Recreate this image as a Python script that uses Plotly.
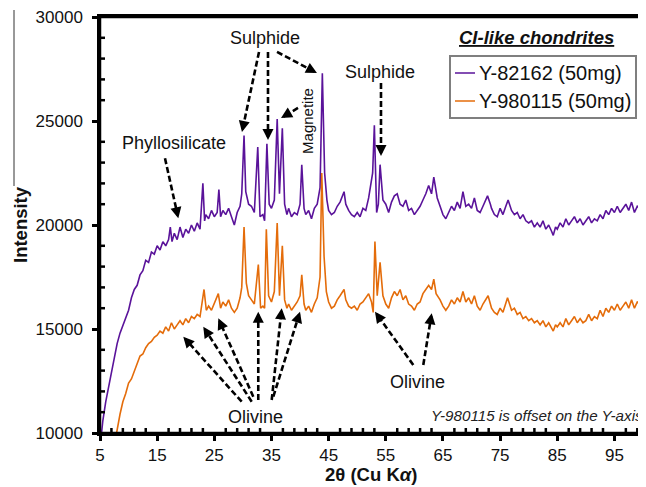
import plotly.graph_objects as go

# ---------------- data ----------------
SERIES_NAMES = ["Y-82162 (50mg)", "Y-980115 (50mg)"]

P_THETA = [
    5.0, 5.5, 6.0, 6.5, 7.0, 7.5, 8.0, 8.5, 9.0, 9.5,
    10.0, 10.5, 11.0, 11.5, 12.0, 12.5, 13.0, 13.5, 14.0, 14.5,
    15.0, 15.5, 16.0, 16.5, 17.0, 17.3, 17.6, 18.0, 18.5, 19.0,
    19.5, 20.0, 20.5, 21.0, 21.5, 22.0, 22.5, 23.0, 23.3, 23.5,
    24.0, 24.5, 25.0, 25.5, 25.8, 26.1, 26.5, 27.0, 27.5, 28.0,
    28.5, 29.0, 29.5, 29.8, 30.2, 30.5, 31.0, 31.5, 32.0, 32.6,
    33.0, 33.5, 33.8, 34.2, 34.6, 35.0, 35.5, 36.0, 36.4, 36.9,
    37.3, 37.7, 38.0, 38.5, 39.0, 39.5, 40.0, 40.3, 40.7, 41.0,
    41.5, 42.0, 42.5, 43.0, 43.5, 43.9, 44.3, 44.7, 45.0, 45.5,
    46.0, 46.5, 47.0, 47.7, 48.0, 48.5, 49.0, 49.5, 50.0, 50.5,
    51.0, 51.5, 52.0, 52.7, 53.0, 53.4, 53.7, 54.0, 54.5, 55.0,
    55.5, 56.0, 56.5, 57.0, 57.5, 58.0, 58.5, 59.0, 59.5, 60.0,
    60.5, 61.0, 61.5, 62.0, 62.5, 63.0, 63.4, 64.0, 64.5, 65.0,
    65.5, 66.0, 66.5, 67.0, 67.5, 68.0, 68.5, 69.0, 69.5, 70.0,
    70.5, 71.0, 71.5, 72.0, 72.8, 73.3, 73.5, 74.0, 74.5, 75.0,
    75.5, 76.0, 76.4, 77.0, 77.5, 78.0, 78.5, 79.0, 79.5, 80.0,
    80.5, 81.0, 81.5, 82.0, 82.5, 83.0, 83.5, 84.0, 84.3, 84.7,
    85.0, 85.5, 86.0, 86.5, 87.0, 87.5, 88.0, 88.5, 89.0, 89.5,
    90.0, 90.5, 91.0, 91.5, 92.0, 92.5, 93.0, 93.5, 94.0, 94.5,
    95.0, 95.5, 96.0, 96.5, 97.0, 97.5, 98.0, 98.5, 99.0, 99.5,
    100.0,
]
P_INT = [
    9300, 10600, 11500, 12300, 12900, 13600, 14300, 14800, 15200, 15500,
    15900, 16500, 16900, 17100, 17600, 17800, 18300, 18200, 18700, 18600,
    19000, 18800, 19200, 19000, 19300, 19900, 19200, 19600, 19300, 19900,
    19400, 19800, 19600, 20000, 19700, 20100, 19800, 22000, 20200, 20500,
    20300, 20700, 20400, 20600, 21700, 20400, 20700, 20500, 20800, 20400,
    20000, 20600, 20900, 21500, 24300, 21600, 21000, 20900, 20600, 23750,
    20400, 20500, 20200, 23900, 21000, 20800, 21200, 25100, 21500, 24650,
    21000, 20500, 20800, 20400, 20600, 20500, 21000, 22900, 20800, 20500,
    20700, 20300, 20800, 21000, 21800, 27300, 22500, 21200, 20700, 20500,
    20600, 20900, 21100, 21600, 21000, 20700, 20500, 20400, 20600, 20400,
    20800, 20700, 21300, 22500, 24800, 20600, 21000, 22900, 21200, 21000,
    20600, 21100, 21400, 21500, 21000, 20900, 21200, 20700, 20800, 20500,
    20700, 20900, 21200, 21500, 21900, 21500, 22300, 21300, 20900, 20500,
    20300, 20600, 20900, 20700, 21100, 20800, 21600, 20900, 21000, 20800,
    21300, 20700, 20600, 20900, 21400, 21000, 20800, 20500, 20400, 20800,
    20500, 20900, 21200, 20700, 20500, 20600, 20300, 20500, 20200, 20100,
    20200, 19900, 20100, 19900, 20200, 19800, 20000, 19700, 19500, 19900,
    19800, 20100, 19900, 20300, 20000, 20200, 20400, 20100, 20300, 20000,
    20200, 20400, 20100, 20300, 20200, 20500, 20300, 20700, 20500, 20800,
    20600, 20900, 20600, 20800, 21000, 20700, 21100, 20600, 20900, 20800,
    20700,
]

O_THETA = [
    7.5, 7.9, 8.5, 9.0, 9.5, 10.0, 10.5, 11.0, 11.5, 12.0,
    12.5, 13.0, 13.5, 14.0, 14.5, 15.0, 15.5, 16.0, 16.5, 17.0,
    17.5, 18.0, 18.5, 19.0, 19.5, 20.0, 20.5, 21.0, 21.5, 22.0,
    22.5, 23.2, 23.6, 24.0, 24.5, 25.0, 25.7, 26.1, 26.5, 27.0,
    27.5, 28.0, 28.5, 29.0, 29.5, 29.8, 30.2, 30.6, 31.0, 31.5,
    32.0, 32.7, 33.1, 33.5, 33.8, 34.1, 34.5, 35.0, 35.5, 36.0,
    36.4, 36.9, 37.3, 37.7, 38.0, 38.5, 39.0, 39.5, 40.0, 40.3,
    40.7, 41.0, 41.5, 42.0, 42.5, 43.0, 43.5, 43.8, 44.2, 44.6,
    45.0, 45.5, 46.0, 46.5, 47.0, 47.7, 48.0, 48.5, 49.0, 49.5,
    50.0, 50.5, 51.0, 51.5, 52.0, 52.5, 52.8, 53.1, 53.5, 54.0,
    54.5, 55.0, 55.5, 56.0, 56.5, 57.0, 57.5, 58.0, 58.5, 59.0,
    59.5, 60.0, 60.5, 61.0, 61.5, 62.0, 62.5, 63.0, 63.4, 63.8,
    64.5, 65.0, 65.5, 66.0, 66.5, 67.0, 67.5, 68.0, 68.5, 69.0,
    69.5, 70.0, 70.5, 71.0, 71.5, 72.0, 72.9, 73.3, 73.5, 74.0,
    74.5, 75.0, 75.5, 76.3, 77.0, 77.5, 78.0, 78.5, 79.0, 79.5,
    80.0, 80.5, 81.0, 81.5, 82.0, 82.5, 83.0, 83.5, 84.0, 84.3,
    84.7, 85.0, 85.5, 86.0, 86.5, 87.0, 87.5, 88.0, 88.5, 89.0,
    89.5, 90.0, 90.5, 91.0, 91.5, 92.0, 92.5, 93.0, 93.5, 94.0,
    94.5, 95.0, 95.5, 96.0, 96.5, 97.0, 97.5, 98.0, 98.5, 99.0,
    99.5, 100.0,
]
O_INT = [
    9200, 10000, 10900, 11500, 11900, 12400, 12600, 13000, 13300, 13700,
    13800, 14100, 14300, 14400, 14600, 14700, 14900, 14800, 15100, 14900,
    15300, 15000, 15200, 15400, 15200, 15500, 15300, 15600, 15500, 15700,
    15600, 16900, 15900, 16100, 15900, 16200, 16700, 16000, 16300, 16100,
    16400, 16000, 15800, 16000, 16500, 17000, 19900, 17200, 16600, 16400,
    16200, 18100, 16000, 16100, 16000, 19800, 16600, 16300, 16800, 20100,
    16600, 19000, 16400, 16000, 16200, 15900, 16100, 16300, 16600, 17600,
    16200, 15900, 16100, 15800, 16200, 16500, 17500, 22500, 18500, 16800,
    16300, 16000, 16100, 16400, 16600, 16900, 16400, 16100, 16000, 16100,
    15900, 16200, 16300, 16500, 16700, 16300, 15800, 19200, 16600, 18200,
    16600, 16200, 16000, 16500, 16800, 16600, 16900, 16400, 16600, 16200,
    16100, 15900, 16200, 16300, 16700, 16900, 17100, 16900, 17400, 16700,
    16400, 16100, 15900, 16100, 16400, 16200, 16500, 16300, 16800, 16300,
    16500, 16200, 16600, 16100, 15900, 16200, 16600, 16200, 16000, 15800,
    15700, 16000, 15800, 16500, 15900, 16000, 15700, 15800, 15500, 15600,
    15400, 15500, 15300, 15400, 15200, 15400, 15100, 15300, 15000, 14900,
    15200, 15100, 15300, 15100, 15500, 15200, 15400, 15600, 15300, 15500,
    15300, 15400, 15700, 15400, 15600, 15500, 15900, 15600, 16000, 15800,
    16100, 15900, 16200, 15900, 16100, 16300, 16000, 16400, 16000, 16300,
    16200, 16100,
]

X_TICKS = [5, 15, 25, 35, 45, 55, 65, 75, 85, 95]
Y_TICKS = [10000, 15000, 20000, 25000, 30000]
X_MINOR_STEP = 2
Y_MINOR_STEP = 1000
X_TITLE = "<b>2θ (Cu K<i>α</i>)</b>"
Y_TITLE = "<b>Intensity</b>"

assert len(P_THETA) == len(P_INT)
assert len(O_THETA) == len(O_INT)

# ---------------- styling ----------------
COLORS = ["#5a139a", "#e46c0a"]
FONT = "Liberation Sans, Arial, sans-serif"
OFF = 8                       # page body margin of the browser
W, H = 646 - OFF, 487 - OFF
ML, MR, MT, MB = 100 - OFF, 3, 17 - OFF, 54
XR = [5, 100]
YR = [10000, 30000]
PW, PH = W - ML - MR, H - MT - MB
XPX = PW / (XR[1] - XR[0])     # px per degree
YPX = PH / (YR[1] - YR[0])     # px per count

fig = go.Figure()
fig.add_trace(go.Scatter(x=P_THETA, y=P_INT, mode="lines", name=SERIES_NAMES[0],
                         line=dict(color=COLORS[0], width=1.6), showlegend=False))
fig.add_trace(go.Scatter(x=O_THETA, y=O_INT, mode="lines", name=SERIES_NAMES[1],
                         line=dict(color=COLORS[1], width=1.6), showlegend=False))


def arrow(tail, head):
    dx = (head[0] - tail[0]) * XPX
    dy = -(head[1] - tail[1]) * YPX
    L = (dx * dx + dy * dy) ** 0.5
    ux, uy = dx / L, dy / L
    stop = (head[0] - ux * 6 / XPX, head[1] + uy * 6 / YPX)
    fig.add_shape(type="line", xref="x", yref="y",
                  x0=tail[0], y0=tail[1], x1=stop[0], y1=stop[1],
                  line=dict(color="black", width=2.6, dash="6px,3px"))
    fig.add_annotation(x=head[0], y=head[1], xref="x", yref="y",
                       ax=-ux * 10, ay=-uy * 10, text="", showarrow=True,
                       arrowhead=2, arrowsize=0.85, arrowwidth=2.6,
                       arrowcolor="black", standoff=0)


def label(x, y, text, size=18, angle=0):
    fig.add_annotation(x=x, y=y, xref="x", yref="y", text=text, showarrow=False,
                       textangle=angle, xanchor="center", yanchor="middle",
                       font=dict(family=FONT, size=size, color="#111"))


# Sulphide (left)
label(33.95, 28990, "Sulphide")
arrow((32.82, 28319), (29.84, 24472))
arrow((34.39, 28319), (34.39, 24087))
arrow((35.97, 28319), (42.96, 27309))
# Magnetite
label(41.2, 25000, "Magnetite", size=15, angle=-90)
arrow((39.64, 25626), (36.67, 25145))
# Sulphide (right)
label(54.0, 27360, "Sulphide")
arrow((54.16, 26828), (54.16, 23318))
# Phyllosilicate
label(17.95, 23940, "Phyllosilicate")
arrow((16.37, 23208), (18.70, 20323))
# Olivine (bottom)
label(32.12, 10770, "Olivine")
arrow((29.79, 11505), (19.57, 14630))
arrow((31.54, 11505), (23.07, 15111))
arrow((31.82, 11745), (25.70, 15515))
arrow((32.69, 11587), (32.69, 15832))
arrow((35.04, 11587), (36.79, 15996))
arrow((35.32, 11745), (39.99, 15832))
# Olivine (right)
label(60.63, 12450, "Olivine")
arrow((59.81, 13269), (53.11, 15832))
arrow((61.56, 13269), (63.03, 15755))


def px2paper(px, py):
    """reference-picture pixel -> paper coords"""
    return (px - OFF - ML) / PW, (H - MB - (py - OFF)) / PH


# plot frame (left, bottom, top)
for (a, b, c, d) in [(0, 0, 0, 1), (0, 0, 1, 0), (0, 1, 1, 1)]:
    fig.add_shape(type="line", xref="paper", yref="paper", x0=a, y0=b, x1=c, y1=d,
                  line=dict(color="black", width=2.5), layer="above")

# minor ticks drawn inside the frame
v = XR[0] + X_MINOR_STEP
while v < XR[1]:
    if (v - X_TICKS[0]) % (X_TICKS[1] - X_TICKS[0]) != 0:
        fig.add_shape(type="line", xref="x", yref="paper", x0=v, x1=v,
                      ysizemode="pixel", yanchor=0, y0=0, y1=5,
                      line=dict(color="black", width=2.5), layer="above")
    v += X_MINOR_STEP
v = YR[0] + Y_MINOR_STEP
while v < YR[1]:
    if (v - Y_TICKS[0]) % (Y_TICKS[1] - Y_TICKS[0]) != 0:
        fig.add_shape(type="line", xref="paper", yref="y", y0=v, y1=v,
                      xsizemode="pixel", xanchor=0, x0=0, x1=5,
                      line=dict(color="black", width=2.5), layer="above")
    v += Y_MINOR_STEP

# axis titles
tx, ty = px2paper(371, 474)
fig.add_annotation(xref="paper", yref="paper", x=tx, y=ty, text=X_TITLE, showarrow=False,
                   xanchor="center", yanchor="middle",
                   font=dict(family=FONT, size=18.5, color="#111"))
tx, ty = px2paper(20, 225)
fig.add_annotation(xref="paper", yref="paper", x=tx, y=ty, text=Y_TITLE, showarrow=False,
                   xanchor="center", yanchor="middle", textangle=-90,
                   font=dict(family=FONT, size=18.5, color="#111"))

# manual legend
x0, y1 = px2paper(450, 56)
x1, y0 = px2paper(636, 118)
fig.add_shape(type="rect", xref="paper", yref="paper", x0=x0, y0=y0, x1=x1, y1=y1,
              line=dict(color="#7f7f7f", width=2), fillcolor="white", layer="above")
for i, (name, col) in enumerate(zip(SERIES_NAMES, COLORS)):
    ly = 73 + 28 * i
    lx0, lyp = px2paper(455, ly)
    lx1, _ = px2paper(475, ly)
    fig.add_shape(type="line", xref="paper", yref="paper", x0=lx0, x1=lx1, y0=lyp, y1=lyp,
                  line=dict(color=col, width=1.5), layer="above")
    tx, _ = px2paper(477, ly)
    fig.add_annotation(xref="paper", yref="paper", x=tx, y=lyp, text=name, showarrow=False,
                       xanchor="left", yanchor="middle",
                       font=dict(family=FONT, size=20, color="#111"))
tx, ty = px2paper(536, 37)
fig.add_annotation(xref="paper", yref="paper", x=tx, y=ty,
                   text="<u><b><i>CI-like chondrites</i></b></u>", showarrow=False,
                   xanchor="center", yanchor="middle",
                   font=dict(family=FONT, size=18.5, color="#111"))

# footnote
fx, fy = px2paper(645, 415)
fig.add_annotation(xref="paper", yref="paper", x=fx, y=fy, xanchor="right",
                   yanchor="middle",
                   text="<i>Y-980115 is offset on the Y-axis</i>", showarrow=False,
                   font=dict(family=FONT, size=15.2, color="#222"))

# thin stray frame line at far left
lx, ly0 = px2paper(14, 10)
_, ly1 = px2paper(14, 186)
fig.add_shape(type="line", xref="paper", yref="paper", x0=lx, x1=lx, y0=ly0, y1=ly1,
              line=dict(color="#333", width=1))

fig.update_layout(
    width=W, height=H,
    margin=dict(l=ML, r=MR, t=MT, b=MB, pad=0, autoexpand=False),
    paper_bgcolor="white", plot_bgcolor="white",
    font=dict(family=FONT, size=17, color="#111"),
    xaxis=dict(
        range=XR, tickmode="linear", tick0=X_TICKS[0], dtick=X_TICKS[1] - X_TICKS[0],
        ticks="outside", ticklen=5, tickwidth=2.5, tickcolor="black",
        showline=True, linewidth=2.5, linecolor="black", mirror=True,
        showgrid=False, zeroline=False, automargin=False,
        ticklabeloverflow="allow",
        tickfont=dict(family=FONT, size=17, color="#111"),
    ),
    yaxis=dict(
        range=YR, tickmode="linear", tick0=Y_TICKS[0], dtick=Y_TICKS[1] - Y_TICKS[0],
        ticks="outside", ticklen=5, tickwidth=2.5, tickcolor="black",
        showline=True, linewidth=2.5, linecolor="black",
        showgrid=False, zeroline=False, automargin=False,
        ticklabeloverflow="allow", tickformat="d",
        ticklabelstandoff=6,
        tickfont=dict(family=FONT, size=17, color="#111"),
    ),
)

fig.write_html("out.html")
